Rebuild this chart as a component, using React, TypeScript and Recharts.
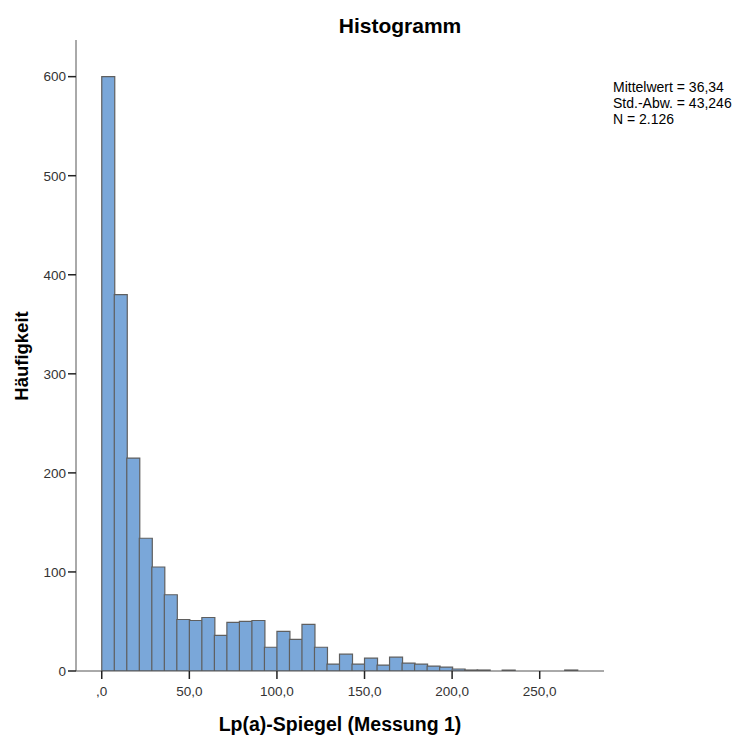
import React from 'react';
import { ComposedChart, Bar, XAxis, YAxis } from 'recharts';

const binWidth = 50 / 7;
const counts = [600, 380, 215, 134, 105, 77, 52, 51, 54, 36, 49, 50, 51, 24, 40, 32, 47, 24, 7, 17, 7, 13, 6, 14, 8, 7, 5, 4, 2, 1, 1, 0, 1, 0, 0, 0, 0, 1];
const xTicks = [0, 50, 100, 150, 200, 250];
const xTickLabels = [',0', '50,0', '100,0', '150,0', '200,0', '250,0'];
const yTicks = [0, 100, 200, 300, 400, 500, 600];
const title = 'Histogramm';
const xLabel = 'Lp(a)-Spiegel (Messung 1)';
const yLabel = 'Häufigkeit';
const statsLines = ['Mittelwert = 36,34', 'Std.-Abw. = 43,246', 'N = 2.126'];

const data = counts.map((c, i) => ({ x: (i + 0.5) * binWidth, count: c }));

const FONT = '"Liberation Sans", Arial, sans-serif';

export default function App() {
  return (
    <div style={{ position: 'absolute', left: 0, top: 0, width: 740, height: 740, background: '#fff' }}>
      <ComposedChart
        width={740}
        height={740}
        data={data}
        margin={{ top: 40, right: 136, bottom: 0, left: 0 }}
        barCategoryGap={0}
        barGap={0}
      >
        <XAxis
          type="number"
          dataKey="x"
          domain={[-14.7, 286.7]}
          allowDataOverflow
          ticks={xTicks}
          interval={0}
          tickFormatter={(v: number) => xTickLabels[xTicks.indexOf(v)]}
          height={69}
          tickSize={8}
          tickMargin={7}
          axisLine={{ stroke: '#555', strokeWidth: 1 }}
          tickLine={{ stroke: '#222', strokeWidth: 1.5 }}
          tick={{ fill: '#333', fontSize: 13.5, fontFamily: FONT }}
        />
        <YAxis
          type="number"
          domain={[0, 637]}
          allowDataOverflow
          ticks={yTicks}
          interval={0}
          width={76}
          tickSize={8}
          tickMargin={2}
          axisLine={{ stroke: '#555', strokeWidth: 1 }}
          tickLine={{ stroke: '#222', strokeWidth: 1.5 }}
          tick={{ fill: '#333', fontSize: 13.5, fontFamily: FONT }}
        />
        <Bar dataKey="count" fill="#7aa7d9" stroke="#5f5f5f" strokeWidth={1.2} isAnimationActive={false} />
      </ComposedChart>
      <svg width={740} height={740} style={{ position: 'absolute', left: 0, top: 0, pointerEvents: 'none' }}>
        <text x={400} y={33} textAnchor="middle" fontFamily={FONT} fontWeight="bold" fontSize={21} fill="#000">{title}</text>
        <text x={340} y={731} textAnchor="middle" fontFamily={FONT} fontWeight="bold" fontSize={19.5} fill="#000">{xLabel}</text>
        <text transform="translate(28,356) rotate(-90)" textAnchor="middle" fontFamily={FONT} fontWeight="bold" fontSize={18.5} fill="#000">{yLabel}</text>
        {statsLines.map((s, i) => (
          <text key={s} x={613} y={92 + i * 16} fontFamily={FONT} fontSize={14} fill="#000">{s}</text>
        ))}
      </svg>
    </div>
  );
}
